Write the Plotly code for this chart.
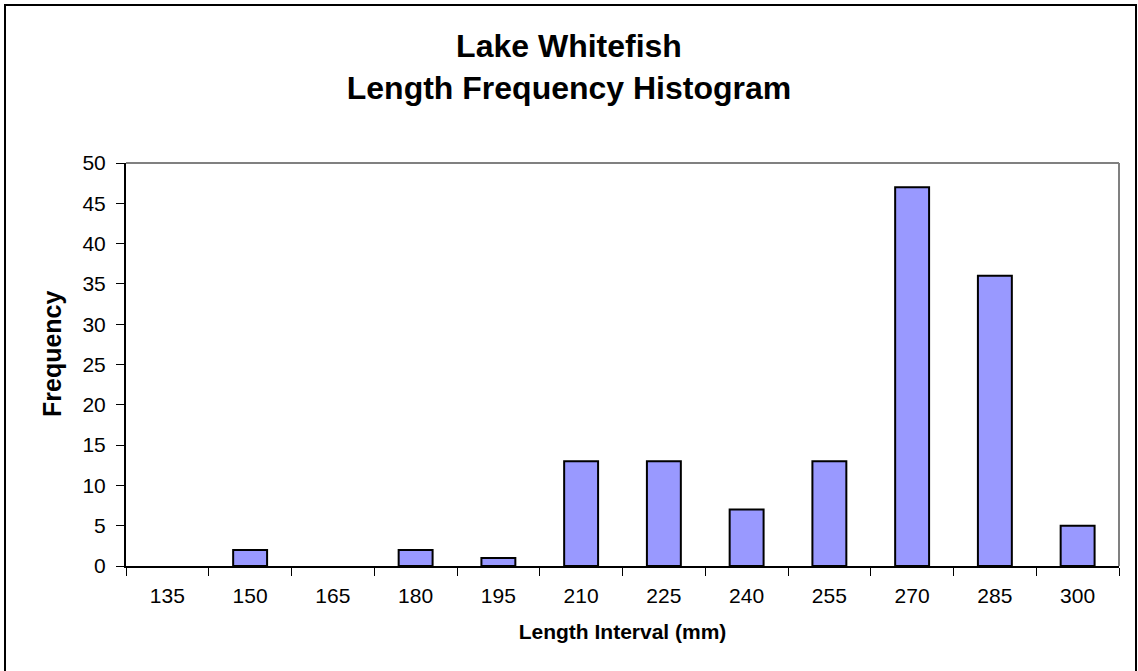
import plotly.graph_objects as go

# length intervals (mm) and fish counts
intervals = ["135", "150", "165", "180", "195", "210", "225", "240", "255", "270", "285", "300"]
frequency = [0, 2, 0, 2, 1, 13, 13, 7, 13, 47, 36, 5]
y_ticks = [0, 5, 10, 15, 20, 25, 30, 35, 40, 45, 50]

# empty bins get no outline (Excel draws nothing there)
outline = [0 if v == 0 else 2 for v in frequency]

fig = go.Figure()
fig.add_trace(go.Bar(
    x=intervals, y=frequency,
    marker=dict(color="#9999FF", line=dict(color="black", width=outline)),
    width=0.41,
))

fig.update_layout(
    width=1138, height=671,
    paper_bgcolor="white", plot_bgcolor="white",
    font=dict(family="Liberation Sans, Arial", color="black"),
    margin=dict(l=126, r=19, t=163, b=105),
    showlegend=False,
    title=dict(
        text="<b>Lake Whitefish<br>Length Frequency Histogram</b>",
        x=0.5, xanchor="center", y=1 - 57 / 671, yanchor="top",
        font=dict(size=32),
    ),
    xaxis=dict(
        title=dict(text="<b>Length Interval (mm)</b>", font=dict(size=21), standoff=18),
        tickfont=dict(size=21), ticklabelstandoff=10,
        ticks="outside", tickson="boundaries", ticklen=8, tickcolor="black",
        showline=True, linecolor="black", linewidth=1.5,
        showgrid=False, mirror=False,
    ),
    yaxis=dict(
        tickfont=dict(size=21), ticklabelstandoff=6,
        range=[0, 50], tickvals=y_ticks,
        ticks="outside", ticklen=8, tickcolor="black",
        showline=True, linecolor="black", linewidth=2,
        showgrid=False, zeroline=False,
    ),
)

# y-axis title placed by hand (sits a little above the plot centre in the original)
fig.add_annotation(text="<b>Frequency</b>", textangle=-90, showarrow=False,
                   xref="paper", yref="paper", x=(52 - 126) / 993, y=(566 - 354) / 403,
                   xanchor="center", yanchor="middle", font=dict(size=25))

# grey plot-area border on top and right
fig.add_shape(type="line", xref="paper", yref="paper", x0=0, x1=1, y0=1, y1=1,
              line=dict(color="#808080", width=2))
fig.add_shape(type="line", xref="paper", yref="paper", x0=1, x1=1, y0=0, y1=1,
              line=dict(color="#808080", width=2))

# outer chart border
fig.add_shape(type="rect", xref="paper", yref="paper",
              x0=-121 / 993, x1=1 + 17 / 993, y0=-106 / 403, y1=1 + 158 / 403,
              line=dict(color="black", width=2), layer="below")

# page body has a default margin; drop it so the figure sits at 0,0
fig.write_html("out.html", config={"displayModeBar": False},
               post_script="document.body.style.margin='0';")
